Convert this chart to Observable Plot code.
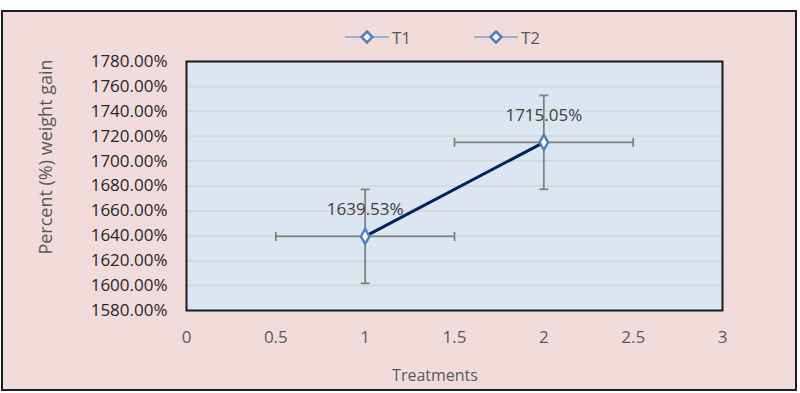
<!DOCTYPE html>
<html>
<head>
<meta charset="utf-8">
<script src="https://cdn.jsdelivr.net/npm/d3@7"></script>
<script src="https://cdn.jsdelivr.net/npm/@observablehq/plot@0.6"></script>
<style>
  html, body { margin: 0; padding: 0; background: #ffffff; }
  #wrap { position: relative; width: 800px; height: 393px; overflow: hidden; background: #ffffff; font-family: "Open Sans", sans-serif; }
  #frame { position: absolute; left: 1px; top: 10px; width: 792px; height: 377px; border: 2px solid #1e1e1e; background: #f2dcdb; }
  #chart { position: absolute; left: 0; top: 0; }
  .legend-item { position: absolute; top: 26px; height: 22px; display: flex; align-items: center; font-size: 17px; color: #595959; }
  .legend-item svg { display: block; margin-right: 3px; }
  #ytitle { position: absolute; left: 45px; top: 157px; transform: translate(-50%, -50%) rotate(-90deg); white-space: nowrap; font-size: 18px; color: #595959; }
  #xtitle { position: absolute; left: 435px; top: 375px; transform: translate(-50%, -50%); white-space: nowrap; font-size: 16px; color: #595959; }
</style>
</head>
<body>
<div id="wrap">
  <div id="frame"></div>
  <div id="chart"></div>
  <div id="legend"></div>
  <div id="ytitle"></div>
  <div id="xtitle"></div>
</div>
<script>
// ---- data ----
const treatments = [1, 2];
const seriesNames = ["T1", "T2"];
const weightGain = [1639.53, 1715.05];
const yError = [37.7, 37.7];
const xError = [0.5, 0.5];
const yTicks = [1580, 1600, 1620, 1640, 1660, 1680, 1700, 1720, 1740, 1760, 1780];
const xTicks = [0, 0.5, 1, 1.5, 2, 2.5, 3];
const yTitle = "Percent (%) weight gain";
const xTitle = "Treatments";

const rows = treatments.map((t, i) => ({
  x: t, y: weightGain[i], ey: yError[i], ex: xError[i],
  label: weightGain[i].toFixed(2) + "%"
}));
const capsV = rows.flatMap(d => [{x: d.x, y: d.y - d.ey}, {x: d.x, y: d.y + d.ey}]);
const capsH = rows.flatMap(d => [{x: d.x - d.ex, y: d.y}, {x: d.x + d.ex, y: d.y}]);

const hCap = {draw(ctx, size) { const r = 4.5; ctx.moveTo(-r, 0); ctx.lineTo(r, 0); }};
const vCap = {draw(ctx, size) { const r = 4.5; ctx.moveTo(0, -r); ctx.lineTo(0, r); }};

const errColor = "#7f7f7f";
const chart = Plot.plot({
  width: 800,
  height: 393,
  marginLeft: 186,
  marginRight: 78,
  marginTop: 61,
  marginBottom: 83,
  style: { background: "transparent", fontFamily: "'Open Sans', sans-serif" },
  x: { domain: [0, 3] },
  y: { domain: [1580, 1780] },
  marks: [
    Plot.frame({ fill: "#dce6f2", stroke: null }),
    Plot.gridY(yTicks, { stroke: "#d9d9d9", strokeOpacity: 1, strokeWidth: 2 }),
    Plot.frame({ stroke: "#1a1a1a", strokeWidth: 2 }),
    Plot.axisY({ ticks: yTicks, tickSize: 0, tickPadding: 19, fontSize: 17, fill: "#262626",
      tickFormat: d => d.toFixed(2) + "%", label: null }),
    Plot.axisX({ ticks: xTicks, tickSize: 0, tickPadding: 20, fontSize: 17, fill: "#595959",
      tickFormat: d => String(d), label: null }),
    // error bars
    Plot.link(rows, { x1: "x", x2: "x", y1: d => d.y - d.ey, y2: d => d.y + d.ey, stroke: errColor, strokeWidth: 1.75 }),
    Plot.link(rows, { x1: d => d.x - d.ex, x2: d => d.x + d.ex, y1: "y", y2: "y", stroke: errColor, strokeWidth: 1.75 }),
    Plot.dot(capsV, { x: "x", y: "y", symbol: hCap, stroke: errColor, strokeWidth: 1.75, fill: "none" }),
    Plot.dot(capsH, { x: "x", y: "y", symbol: vCap, stroke: errColor, strokeWidth: 1.75, fill: "none" }),
    // trend line
    Plot.line(rows, { x: "x", y: "y", stroke: "#002060", strokeWidth: 3 }),
    // markers
    Plot.dot(rows, { x: "x", y: "y", symbol: "diamond", r: 4.5, fill: "#ffffff", stroke: "#4f81bd", strokeWidth: 2.5 }),
    // data labels
    Plot.text(rows, { x: "x", y: "y", text: "label", dy: -27, fontSize: 17, fill: "#404040" })
  ]
});
document.getElementById("chart").appendChild(chart);

// legend
const legend = document.getElementById("legend");
const legendLeft = [345, 474];
seriesNames.forEach((name, i) => {
  const item = document.createElement("div");
  item.className = "legend-item";
  item.style.left = legendLeft[i] + "px";
  item.innerHTML = `<svg width="44" height="16" viewBox="0 0 44 16">
      <line x1="0" y1="8" x2="44" y2="8" stroke="#95b3d7" stroke-width="2"/>
      <path d="M22,2.5 L27.5,8 L22,13.5 L16.5,8 Z" fill="#ffffff" stroke="#4f81bd" stroke-width="2.5"/>
    </svg><span>${name}</span>`;
  legend.appendChild(item);
});
document.getElementById("ytitle").textContent = yTitle;
document.getElementById("xtitle").textContent = xTitle;
</script>
</body>
</html>
